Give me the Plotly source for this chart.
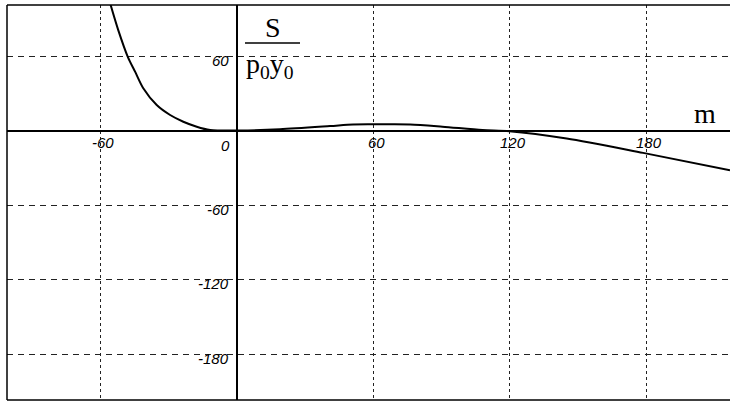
import plotly.graph_objects as go

# Curve S/(p0*y0) against m
m_vals = [-55.4, -52.0, -47.8, -44.6, -41.0, -35.1, -29.2, -23.4, -17.5, -11.6, -8.0,
          0.0, 1.5, 19.1, 41.1, 51.2, 63.0, 76.3, 90.5, 108.1, 120.0, 145.1, 178.7, 216.9]
s_vals = [101.5, 80.9, 59.4, 47.4, 34.0, 20.5, 12.5, 7.1, 3.1, 0.4, 0.0,
          0.0, 0.0, 1.0, 3.6, 4.9, 5.0, 4.9, 3.1, 0.4, -0.5, -6.4, -18.0, -31.9]

# Grid / tick positions
x_grid = [-60, 60, 120, 180]
y_grid = [60, -60, -120, -180]
x_ticks = [-60, 0, 60, 120, 180]
x_tick_text = ["-60", "0", "60", "120", "180"]
y_ticks = [60, -60, -120, -180]
y_tick_text = ["60", "-60", "-120", "-180"]

X_RANGE = [-100.9, 216.9]
Y_RANGE = [-217.0, 101.1]

fig = go.Figure()
fig.add_trace(go.Scatter(
    x=m_vals, y=s_vals, mode="lines",
    line=dict(color="black", width=2, shape="spline", smoothing=0.8),
    hoverinfo="skip", showlegend=False,
))

tick_font = dict(family="Liberation Sans", size=15, color="black", style="italic")
serif_font = dict(family="Liberation Serif", size=28, color="black")

annotations = []
for v, t in zip(x_ticks, x_tick_text):
    annotations.append(dict(
        x=v, y=0, xref="x", yref="y", text=t, showarrow=False,
        font=tick_font, xanchor="center", yanchor="middle",
        xshift=(-11 if v == 0 else 3), yshift=(-15 if v == 0 else -12),
    ))
for v, t in zip(y_ticks, y_tick_text):
    annotations.append(dict(
        x=0, y=v, xref="x", yref="y", text=t, showarrow=False,
        font=tick_font, xanchor="right", yanchor="middle",
        xshift=-6, yshift=-4,
    ))

# Axis titles: fraction S / p0y0 and m
annotations.append(dict(x=16.0, y=83.0, xref="x", yref="y", text="S", showarrow=False,
                        font=serif_font, xanchor="center", yanchor="middle"))
annotations.append(dict(x=14.7, y=52.0, xref="x", yref="y", text="p<sub>0</sub>y<sub>0</sub>",
                        showarrow=False, font=serif_font, xanchor="center", yanchor="middle"))
annotations.append(dict(x=205.9, y=14.0, xref="x", yref="y", text="m", showarrow=False,
                        font=serif_font, xanchor="center", yanchor="middle"))

frame = dict(color="black", width=1.5)
shapes = [
    # fraction bar
    dict(type="line", xref="x", yref="y", x0=3.7, x1=27.9, y0=70.5, y1=70.5,
         line=dict(color="black", width=1.5)),
    # open frame: left, top, bottom
    dict(type="line", xref="paper", yref="paper", x0=0, x1=0, y0=0, y1=1, line=frame),
    dict(type="line", xref="paper", yref="paper", x0=0, x1=1, y0=1, y1=1, line=frame),
    dict(type="line", xref="paper", yref="paper", x0=0, x1=1, y0=0, y1=0, line=frame),
]

fig.update_layout(
    width=730, height=403,
    margin=dict(l=7, r=0, t=5, b=3),
    paper_bgcolor="white", plot_bgcolor="white",
    annotations=annotations,
    shapes=shapes,
    xaxis=dict(
        range=X_RANGE, tickvals=x_grid, showticklabels=False, ticks="",
        showgrid=True, gridcolor="#222", gridwidth=1.2, griddash="3px,3px",
        zeroline=True, zerolinecolor="black", zerolinewidth=2,
        showline=False, fixedrange=True,
    ),
    yaxis=dict(
        range=Y_RANGE, tickvals=y_grid, showticklabels=False, ticks="",
        showgrid=True, gridcolor="#222", gridwidth=1.2, griddash="6px,5px",
        zeroline=True, zerolinecolor="black", zerolinewidth=2,
        showline=False, fixedrange=True,
    ),
)

fig.write_html("out.html")
